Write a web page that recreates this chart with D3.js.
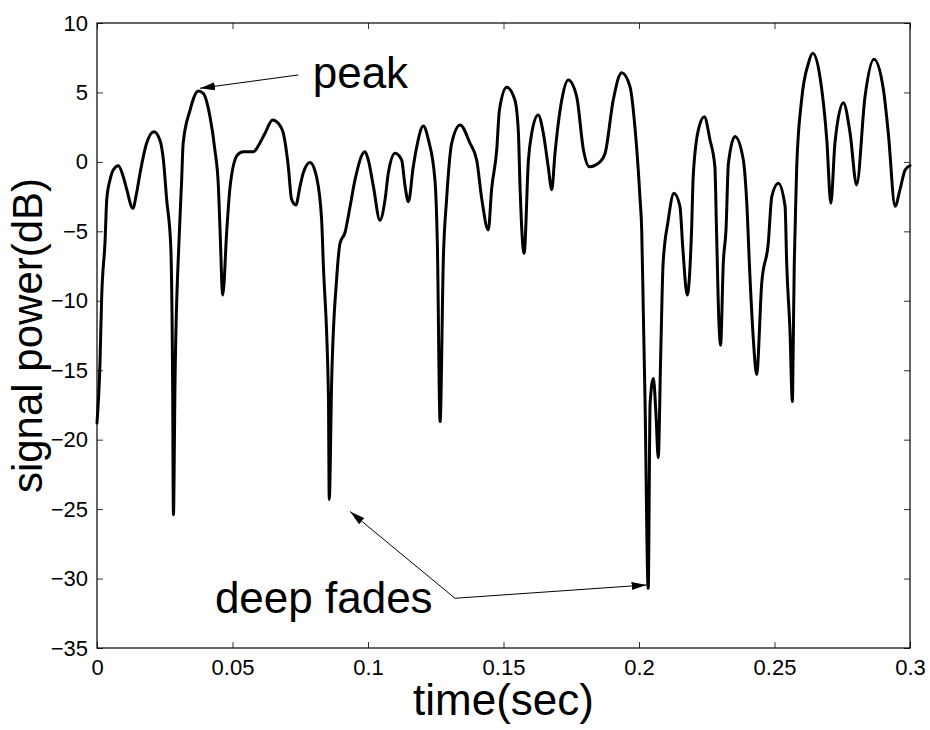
<!DOCTYPE html>
<html>
<head>
<meta charset="utf-8">
<script src="https://cdn.jsdelivr.net/npm/d3@7"></script>
<style>
  body { margin: 0; background: #fff; }
  svg text { font-family: "Liberation Sans", Arial, sans-serif; fill: #000; }
</style>
</head>
<body>
<div id="chart"></div>
<script>
// signal power trace
var time = [0.0000, 0.0011, 0.0017, 0.0030, 0.0036, 0.0048, 0.0060, 0.0079, 0.0097, 0.0110,
  0.0132, 0.0146, 0.0159, 0.0183, 0.0210, 0.0232, 0.0245, 0.0257, 0.0272, 0.0279,
  0.0282, 0.0288, 0.0303, 0.0312, 0.0318, 0.0343, 0.0374, 0.0392, 0.0417, 0.0435,
  0.0448, 0.0454, 0.0464, 0.0479, 0.0491, 0.0518, 0.0540, 0.0577, 0.0601, 0.0620,
  0.0648, 0.0669, 0.0687, 0.0706, 0.0718, 0.0734, 0.0749, 0.0761, 0.0786, 0.0810,
  0.0829, 0.0835, 0.0854, 0.0857, 0.0866, 0.0884, 0.0897, 0.0915, 0.0934, 0.0952,
  0.0989, 0.1001, 0.1020, 0.1044, 0.1063, 0.1075, 0.1100, 0.1124, 0.1137, 0.1149,
  0.1167, 0.1180, 0.1204, 0.1223, 0.1247, 0.1256, 0.1266, 0.1278, 0.1290, 0.1309,
  0.1340, 0.1376, 0.1401, 0.1420, 0.1444, 0.1456, 0.1475, 0.1485, 0.1512, 0.1542,
  0.1555, 0.1561, 0.1576, 0.1592, 0.1604, 0.1628, 0.1647, 0.1665, 0.1678, 0.1690,
  0.1715, 0.1739, 0.1770, 0.1795, 0.1817, 0.1856, 0.1875, 0.1905, 0.1936, 0.1967,
  0.1985, 0.2004, 0.2010, 0.2016, 0.2022, 0.2034, 0.2041, 0.2053, 0.2063, 0.2071,
  0.2080, 0.2089, 0.2107, 0.2129, 0.2151, 0.2162, 0.2178, 0.2194, 0.2200, 0.2219,
  0.2241, 0.2262, 0.2280, 0.2286, 0.2295, 0.2301, 0.2311, 0.2321, 0.2330, 0.2354,
  0.2385, 0.2397, 0.2410, 0.2422, 0.2434, 0.2453, 0.2477, 0.2490, 0.2514, 0.2539,
  0.2545, 0.2557, 0.2566, 0.2569, 0.2573, 0.2576, 0.2582, 0.2600, 0.2625, 0.2641,
  0.2668, 0.2693, 0.2708, 0.2723, 0.2754, 0.2779, 0.2803, 0.2834, 0.2867, 0.2902,
  0.2920, 0.2945, 0.2963, 0.2982, 0.3000]

var power = [-18.8, -14.5, -9.9, -5.6, -2.7, -1.3, -0.58, -0.27, -1.07, -2.0,
  -3.34, -2.26, -0.8, 1.34, 2.17, 1.58, 0.14, -2.7, -6.0, -15.7,
  -25.4, -15.7, -5.5, -1.5, 1.36, 3.7, 5.1, 4.94, 3.25, 0.86,
  -1.78, -4.9, -9.58, -4.9, -1.8, 0.5, 0.73, 0.73, 1.36, 2.06,
  3.02, 2.78, 2.1, -0.35, -2.7, -3.1, -1.78, -0.8, -0.04, -1.07,
  -4.2, -7.3, -16.9, -24.3, -15.7, -8.5, -5.84, -5.1, -3.2, -1.3,
  0.73, 0.14, -1.78, -4.2, -2.7, -0.8, 0.62, 0.14, -1.78, -2.87,
  -0.35, 1.1, 2.58, 1.58, -1.3, -6.0, -18.7, -7.0, -2.7, 1.36,
  2.66, 1.36, 0.14, -2.7, -4.9, -2.0, 0.86, 3.74, 5.37, 4.46,
  2.1, -1.78, -6.58, 0.14, 2.06, 3.38, 2.06, -0.35, -2.0, 0.62,
  4.46, 5.9, 4.7, 0.86, -0.35, 0.0, 0.62, 4.46, 6.42, 5.4,
  2.5, -2.7, -4.9, -10.9, -16.9, -30.7, -17.4, -15.6, -18.3, -21.3,
  -14.0, -7.3, -4.3, -2.26, -3.2, -6.3, -9.58, -4.9, -1.07, 2.3,
  3.25, 1.58, -0.35, -4.9, -11.6, -13.2, -7.3, -4.9, -0.1, 1.82,
  0.14, -2.7, -8.5, -12.8, -15.3, -8.7, -5.86, -2.5, -1.54, -3.2,
  -7.3, -12.1, -17.26, -13.3, -7.3, -4.9, -0.35, 4.46, 7.1, 7.82,
  6.1, 1.58, -2.98, 1.34, 4.26, 2.06, -1.66, 4.7, 7.39, 5.2,
  2.06, -3.2, -2.0, -0.58, -0.27]

var xTicks = [0, 0.05, 0.1, 0.15, 0.2, 0.25, 0.3]
var xTickLabels = ["0", "0.05", "0.1", "0.15", "0.2", "0.25", "0.3"]
var yTicks = [-35, -30, -25, -20, -15, -10, -5, 0, 5, 10]

// annotations in data units: label, label anchor, arrow start, arrow tips
var peakLabel = { text: "peak", t: 0.0796, v: 5.3 }
var peakArrow = [{ from: [0.0743, 6.26], to: [0.038, 5.3] }]
var fadeLabel = { text: "deep fades", t: 0.0435, v: -32.5 }
var fadeArrows = [
  { from: [0.1321, -31.42], to: [0.0934, -25.18] },
  { from: [0.1321, -31.42], to: [0.2028, -30.46] }
]

var data = time.map((t, i) => ({ t: t, v: power[i] }))

var width = 930, height = 730
var plotL = 97, plotR = 910, plotT = 23, plotB = 648

var svg = d3.select("#chart").append("svg")
  .attr("width", width)
  .attr("height", height)

var x = d3.scaleLinear().domain([0, 0.3]).range([plotL, plotR])
var y = d3.scaleLinear().domain([-35, 10]).range([plotB, plotT])

svg.append("defs").append("marker")
  .attr("id", "head")
  .attr("markerUnits", "userSpaceOnUse")
  .attr("viewBox", "0 0 15 8")
  .attr("markerWidth", 15)
  .attr("markerHeight", 8)
  .attr("refX", 15)
  .attr("refY", 4)
  .attr("orient", "auto")
  .append("path")
  .attr("d", "M0,0L15,4L0,8Z")
  .attr("fill", "#000")

// ticks on all four sides, pointing inward
svg.append("g")
  .attr("transform", `translate(0,${plotB})`)
  .call(d3.axisBottom(x).tickValues(xTicks).tickFormat((d, i) => xTickLabels[i])
    .tickSizeInner(-6).tickSizeOuter(0).tickPadding(11))
svg.append("g")
  .attr("transform", `translate(${plotL},0)`)
  .call(d3.axisLeft(y).tickValues(yTicks).tickFormat(d3.format("d"))
    .tickSizeInner(-6).tickSizeOuter(0).tickPadding(9))
svg.append("g")
  .attr("transform", `translate(0,${plotT})`)
  .call(d3.axisTop(x).tickValues(xTicks).tickFormat("").tickSizeInner(-6).tickSizeOuter(0))
svg.append("g")
  .attr("transform", `translate(${plotR},0)`)
  .call(d3.axisRight(y).tickValues(yTicks).tickFormat("").tickSizeInner(-6).tickSizeOuter(0))

svg.selectAll(".domain").remove()
svg.selectAll(".tick line").attr("stroke", "#333").attr("stroke-width", 1)
svg.selectAll(".tick text")
  .attr("font-size", 22)
  .attr("font-family", "'Liberation Sans', Arial, sans-serif")
  .attr("fill", "#000")

svg.append("rect")
  .attr("x", plotL)
  .attr("y", plotT)
  .attr("width", plotR - plotL)
  .attr("height", plotB - plotT)
  .attr("fill", "none")
  .attr("stroke", "#000")
  .attr("stroke-width", 1.2)

var line = d3.line()
  .x(d => x(d.t))
  .y(d => y(d.v))
  .curve(d3.curveMonotoneX)

svg.append("path")
  .datum(data)
  .attr("d", line)
  .attr("fill", "none")
  .attr("stroke", "#000")
  .attr("stroke-width", 3)
  .attr("stroke-linejoin", "round")
  .attr("stroke-linecap", "round")

// annotations
svg.selectAll("arrows")
  .data(peakArrow.concat(fadeArrows))
  .enter()
  .append("line")
  .attr("x1", d => x(d.from[0]))
  .attr("y1", d => y(d.from[1]))
  .attr("x2", d => x(d.to[0]))
  .attr("y2", d => y(d.to[1]))
  .attr("stroke", "#000")
  .attr("stroke-width", 1)
  .attr("marker-end", "url(#head)")

svg.selectAll("notes")
  .data([peakLabel, fadeLabel])
  .enter()
  .append("text")
  .text(d => d.text)
  .attr("x", d => x(d.t))
  .attr("y", d => y(d.v))
  .attr("font-size", 44)

// axis titles
svg.append("text")
  .text("time(sec)")
  .attr("x", (plotL + plotR) / 2)
  .attr("y", 715)
  .attr("text-anchor", "middle")
  .attr("font-size", 44)

svg.append("text")
  .text("signal power(dB)")
  .attr("transform", `translate(42,${(plotT + plotB) / 2}) rotate(-90)`)
  .attr("text-anchor", "middle")
  .attr("font-size", 42)
</script>
</body>
</html>
